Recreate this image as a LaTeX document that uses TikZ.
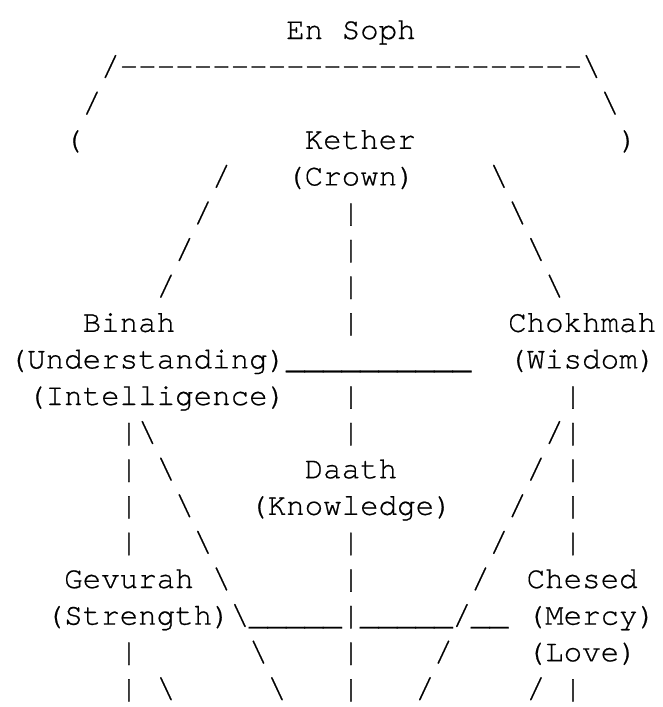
\documentclass[tikz,border=0pt]{standalone}
\usepackage{fontspec}
\newfontfamily\asciifont{TeX Gyre Cursor}[FakeBold=0.6]
\newlength\cw
\setlength\cw{18.5pt}
\newcommand\sk[1]{\hspace*{#1\cw}}
\newcommand\rep[2]{\foreach\i in {1,...,#1}{#2}}
\newcommand\bs{\textbackslash}
\newcommand\us{\_}
\tikzset{
  asciiline/.style={anchor=base west, inner sep=0pt, outer sep=0pt,
    font=\asciifont\fontsize{30.83}{36.6}\selectfont, text=black}
}
\begin{document}
\begin{tikzpicture}[x=1pt,y=1pt]
\useasboundingbox[fill=white] (0,0) rectangle (662,-707);
\def\xo{8.7}
\def\ya{39}
\def\dy{36.6}
\node[asciiline] (l1) at (\xo,{-\ya-0*\dy}) {\sk{15}En\sk{1}Soph};
\node[asciiline] (l2) at (\xo,{-\ya-1*\dy}) {\sk{5}/\rep{25}{-}\bs};
\node[asciiline] (l3) at (\xo,{-\ya-2*\dy}) {\sk{4}/\sk{27}\bs};
\node[asciiline] (l4) at (\xo,{-\ya-3*\dy}) {\sk{3}(\sk{12}Kether\sk{11})};
\node[asciiline] (l5) at (\xo,{-\ya-4*\dy}) {\sk{11}/\sk{3}(Crown)\sk{4}\bs};
\node[asciiline] (l6) at (\xo,{-\ya-5*\dy}) {\sk{10}/\sk{7}|\sk{8}\bs};
\node[asciiline] (l7) at (\xo,{-\ya-6*\dy}) {\sk{9}/\sk{8}|\sk{9}\bs};
\node[asciiline] (l8) at (\xo,{-\ya-7*\dy}) {\sk{8}/\sk{9}|\sk{10}\bs};
\node[asciiline] (l9) at (\xo,{-\ya-8*\dy}) {\sk{4}Binah\sk{9}|\sk{8}Chokhmah};
\node[asciiline] (l10) at (\xo,{-\ya-9*\dy}) {(Understanding)\rep{10}{\us}\sk{2}(Wisdom)};
\node[asciiline] (l11) at (\xo,{-\ya-10*\dy}) {\sk{1}(Intelligence)\sk{3}|\sk{11}|};
\node[asciiline] (l12) at (\xo,{-\ya-11*\dy}) {\sk{6}|\bs\sk{10}|\sk{10}/|};
\node[asciiline] (l13) at (\xo,{-\ya-12*\dy}) {\sk{6}|\sk{1}\bs\sk{7}Daath\sk{7}/\sk{1}|};
\node[asciiline] (l14) at (\xo,{-\ya-13*\dy}) {\sk{6}|\sk{2}\bs\sk{3}(Knowledge)\sk{3}/\sk{2}|};
\node[asciiline] (l15) at (\xo,{-\ya-14*\dy}) {\sk{6}|\sk{3}\bs\sk{7}|\sk{7}/\sk{3}|};
\node[asciiline] (l16) at (\xo,{-\ya-15*\dy}) {\sk{3}Gevurah\sk{1}\bs\sk{6}|\sk{6}/\sk{2}Chesed};
\node[asciiline] (l17) at (\xo,{-\ya-16*\dy}) {\sk{2}(Strength)\bs\rep{5}{\us}|\rep{5}{\us}/\rep{2}{\us}\sk{1}(Mercy)};
\node[asciiline] (l18) at (\xo,{-\ya-17*\dy}) {\sk{6}|\sk{6}\bs\sk{4}|\sk{4}/\sk{4}(Love)};
\node[asciiline] (l19) at (\xo,{-\ya-18*\dy}) {\sk{6}|\sk{1}\bs\sk{5}\bs\sk{3}|\sk{3}/\sk{5}/\sk{1}|};
\end{tikzpicture}
\end{document}
